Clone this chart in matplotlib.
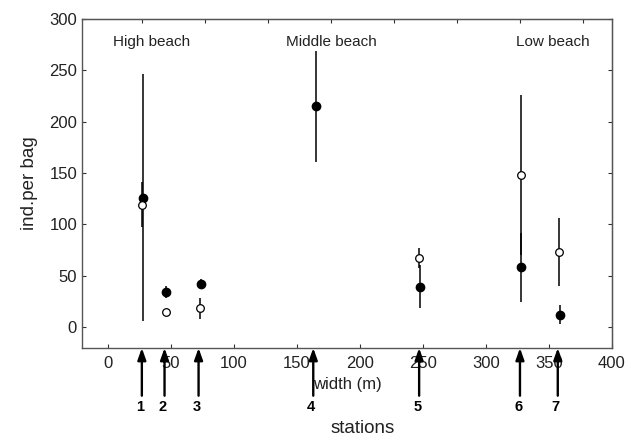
import matplotlib
matplotlib.use('Agg')
import matplotlib.pyplot as plt

plt.rcParams['font.family'] = ['Liberation Sans', 'DejaVu Sans']

# station positions (m) and arrow labels
stations = ['1', '2', '3', '4', '5', '6', '7']
arrow_x = [27, 45, 72, 163, 247, 327, 357]

# filled circles
filled_x = [28, 46, 74, 165, 248, 328, 358.5]
filled_y = [126, 34, 42, 215, 39, 58, 12]
filled_err = [120, 6, 5, 54, 21, 34, 9.5]

# open circles (none at station 4)
open_x = [27, 46, 73, 247, 327.5, 357.7]
open_y = [119, 15, 18, 67, 148, 73]
open_err = [22, 0, 10, 10, 78, 33]

zones = ['High beach', 'Middle beach', 'Low beach']
zone_x = [35, 177, 353]

fig = plt.figure(figsize=(6.39, 4.4), dpi=100)
ax = fig.add_axes([0.1283, 0.2091, 0.8294, 0.7477])

ax.errorbar(filled_x, filled_y, yerr=filled_err, fmt='o', color='k', mfc='k', mec='k',
            ms=6, elinewidth=1.1, capsize=0, zorder=3)
ax.errorbar(open_x, open_y, yerr=open_err, fmt='o', color='k', mfc='white', mec='k',
            ms=5.5, mew=0.9, elinewidth=1.1, capsize=0, zorder=4)

for zx, zn in zip(zone_x, zones):
    ax.text(zx, 278, zn, ha='center', va='center', fontsize=11, color='#222222')

for axx, st in zip(arrow_x, stations):
    ax.annotate('', xy=(axx, 0), xytext=(axx, -0.145),
                xycoords=('data', 'axes fraction'), textcoords=('data', 'axes fraction'),
                arrowprops=dict(arrowstyle='-|>,head_length=0.7,head_width=0.25',
                                color='k', lw=1.7, shrinkA=0, shrinkB=0))
    ax.text(axx - 1.5, -0.18, st, transform=ax.get_xaxis_transform(), ha='center', va='center',
            fontsize=10.5, fontweight='bold')

ax.set_xlim(-20.5, 400)
ax.set_ylim(-20.5, 300)
ax.set_xticks(range(0, 401, 50))
ax.set_yticks(range(0, 301, 50))
ax.tick_params(direction='in', length=3, labelsize=12, colors='#333333', labelcolor='#222222')
ax.tick_params(axis='x', pad=6)
for s in ax.spines.values():
    s.set_color('#555555')
    s.set_linewidth(1.0)

top = ax.secondary_xaxis('top')
top.set_xticks([27 + 50 * k for k in range(8)])
top.set_xticklabels([])
top.tick_params(direction='in', length=3, colors='#333333')
top.spines['top'].set_color('#555555')
right = ax.secondary_yaxis('right')
right.set_yticks(range(0, 301, 50))
right.set_yticklabels([])
right.tick_params(direction='in', length=3, colors='#333333')

ax.set_xlabel('width (m)', fontsize=12, labelpad=4, color='#222222')
ax.set_ylabel('ind.per bag', fontsize=13.5, labelpad=8, color='#222222')
fig.text(363 / 639, 1 - 428 / 440, 'stations', ha='center', va='center', fontsize=13.5,
         color='#222222')

fig.savefig('out.png', dpi=100)
